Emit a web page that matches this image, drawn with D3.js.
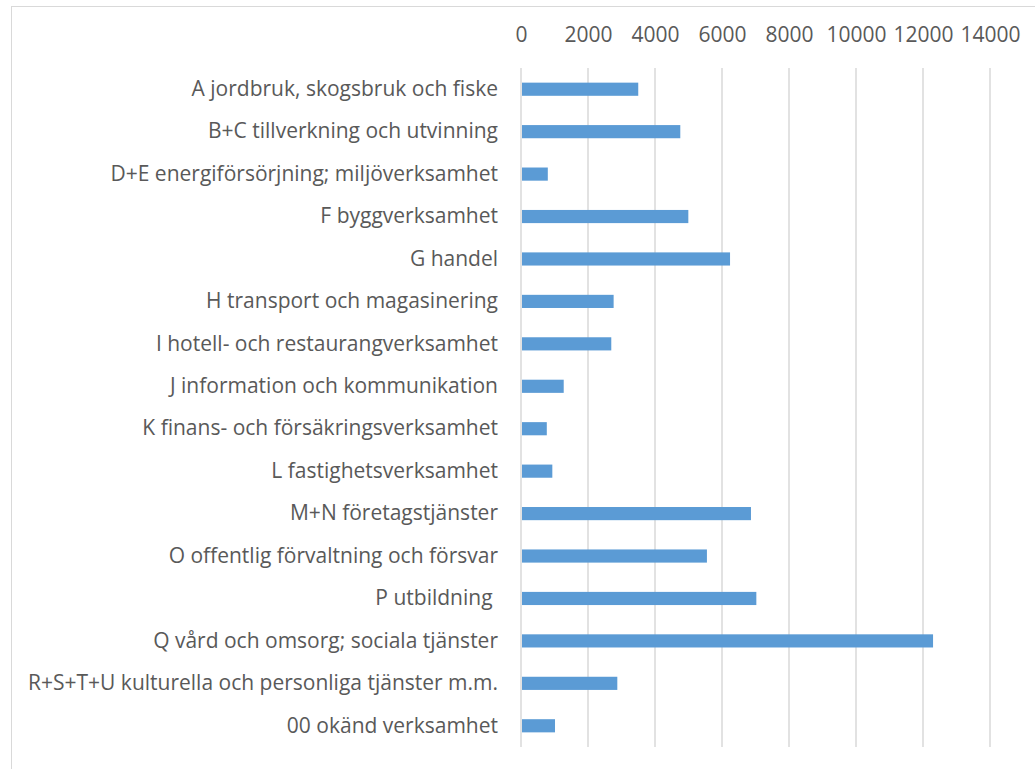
<!DOCTYPE html>
<html>
<head>
<meta charset="utf-8">
<script src="https://cdn.jsdelivr.net/npm/d3@7"></script>
<style>
  body { margin: 0; background: #fff; }
  text { font-family: "Open Sans", sans-serif; fill: #595959; white-space: pre; }
</style>
</head>
<body>
<div id="chart"></div>
<script>
// branches (top to bottom) and their values
const categories = [
    'A jordbruk, skogsbruk och fiske',
    'B+C tillverkning och utvinning',
    'D+E energiförsörjning; miljöverksamhet',
    'F byggverksamhet',
    'G handel',
    'H transport och magasinering',
    'I hotell- och restaurangverksamhet',
    'J information och kommunikation',
    'K finans- och försäkringsverksamhet',
    'L fastighetsverksamhet',
    'M+N företagstjänster',
    'O offentlig förvaltning och försvar',
    'P utbildning ',
    'Q vård och omsorg; sociala tjänster',
    'R+S+T+U kulturella och personliga tjänster m.m.',
    '00 okänd verksamhet'
];
const values = [3500, 4755, 800, 4995, 6240, 2765, 2695, 1275, 770, 935, 6865, 5550, 7025, 12300, 2875, 1015];
const xTicks = [0, 2000, 4000, 6000, 8000, 10000, 12000, 14000];

const W = 1035, H = 769;
const margin = { top: 68, right: 45, bottom: 22, left: 521 };
const width = W - margin.left - margin.right;
const height = H - margin.top - margin.bottom;
const fontSize = '21px';

const svg = d3.select('#chart').append('svg')
    .attr('width', W)
    .attr('height', H);

// chart frame
svg.append('rect')
    .attr('x', 11.5).attr('y', 6.5)
    .attr('width', W).attr('height', H)
    .attr('fill', 'none')
    .attr('stroke', '#d9d9d9');

const g = svg.append('g')
    .attr('transform', `translate(${margin.left},${margin.top})`);

const x = d3.scaleLinear().domain([0, 14000]).range([0, width]);
const y = d3.scaleBand().domain(categories).range([0, height]).paddingInner(0.69).paddingOuter(0.345);

// gridlines
g.selectAll('.grid')
    .data(xTicks)
    .enter()
    .append('line')
    .attr('class', 'grid')
    .attr('x1', d => x(d)).attr('x2', d => x(d))
    .attr('y1', 0).attr('y2', height)
    .attr('stroke', '#d9d9d9')
    .attr('stroke-width', 1.5);

// top axis labels
const xAxis = g.append('g')
    .call(d3.axisTop(x).tickValues(xTicks).tickFormat(d3.format('d')).tickSize(0).tickPadding(26));
xAxis.select('.domain').remove();
xAxis.selectAll('text')
    .style('font-size', fontSize)
    .style('font-family', '"Open Sans", sans-serif')
    .attr('fill', '#595959');

// category labels
const yAxis = g.append('g')
    .call(d3.axisLeft(y).tickSize(0).tickPadding(23));
yAxis.select('.domain').remove();
yAxis.selectAll('text')
    .style('font-size', fontSize)
    .style('font-family', '"Open Sans", sans-serif')
    .attr('fill', '#595959');

// bars
g.selectAll('.bar')
    .data(categories)
    .enter()
    .append('rect')
    .attr('class', 'bar')
    .attr('x', x(0) + 1)
    .attr('y', d => y(d))
    .attr('width', (d, i) => x(values[i]) - x(0) - 1)
    .attr('height', y.bandwidth())
    .attr('fill', '#5b9bd5');
</script>
</body>
</html>
